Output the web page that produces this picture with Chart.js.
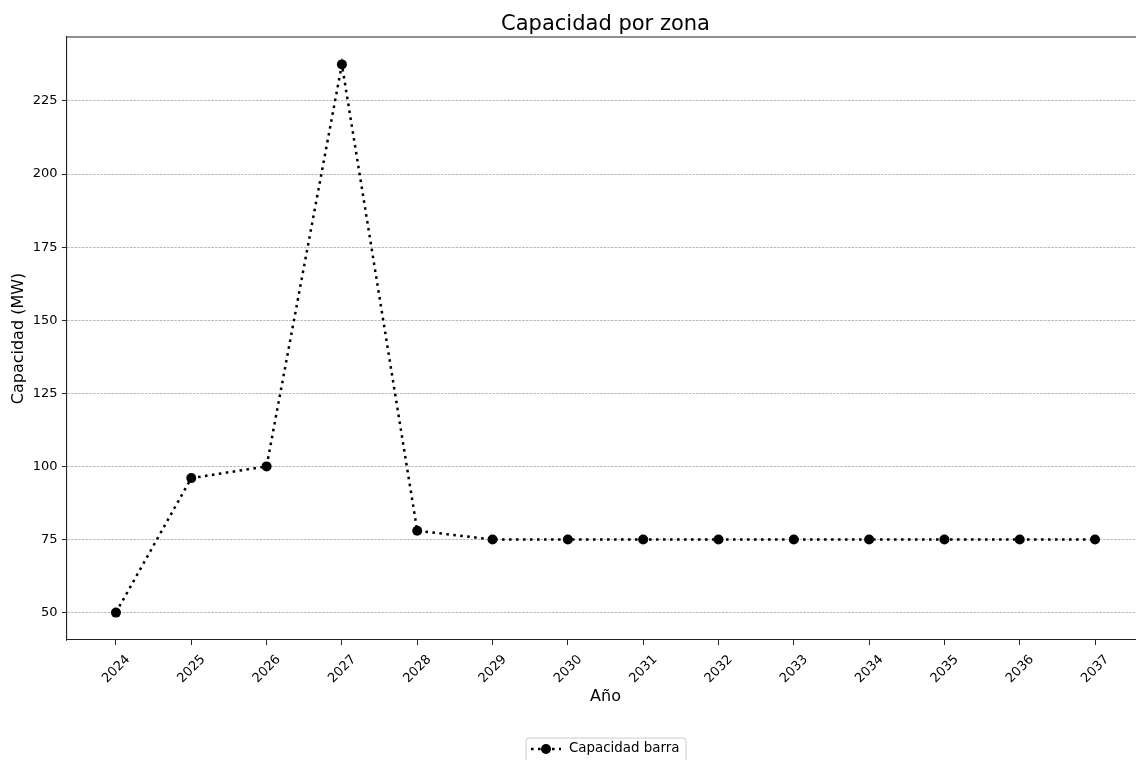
<!DOCTYPE html>
<html>
<head>
<meta charset="utf-8">
<script src="https://cdn.jsdelivr.net/npm/chart.js"></script>
<style>
  html, body { margin: 0; padding: 0; background: #fff; overflow: hidden; }
  #wrap { width: 1136px; height: 760px; overflow: hidden; }
</style>
</head>
<body>
<div id="wrap"><canvas id="capChart" width="1160" height="780"></canvas></div>
<script>
// Datos
const years = [2024, 2025, 2026, 2027, 2028, 2029, 2030, 2031, 2032, 2033, 2034, 2035, 2036, 2037];
const capacidad = [50, 96, 100, 237.5, 78, 75, 75, 75, 75, 75, 75, 75, 75, 75];
const yTicks = [50, 75, 100, 125, 150, 175, 200, 225];
const seriesLabel = 'Capacidad barra';
const chartTitle = 'Capacidad por zona';

const FONT = '"DejaVu Sans", sans-serif';
const spineColor = '#222';

// Title over the axes, top spine and legend drawn like matplotlib
const frameAndLegend = {
    id: 'frameAndLegend',
    afterDraw(chart) {
        const { ctx, chartArea: { top, left, right } } = chart;
        ctx.save();
        ctx.strokeStyle = spineColor;
        ctx.lineWidth = 1.1;
        ctx.beginPath();
        ctx.moveTo(left, top);
        ctx.lineTo(right, top);
        ctx.stroke();

        // title centred on the plot area
        ctx.fillStyle = '#000';
        ctx.font = '21px ' + FONT;
        ctx.textAlign = 'center';
        ctx.textBaseline = 'alphabetic';
        ctx.fillText(chartTitle, (left + right) / 2, 29.5);

        // Legend box
        const bx = 526, by = 738, bw = 160, bh = 26;
        ctx.beginPath();
        ctx.roundRect(bx, by, bw, bh, 3);
        ctx.fillStyle = 'rgba(255,255,255,0.8)';
        ctx.fill();
        ctx.strokeStyle = '#cccccc';
        ctx.lineWidth = 1;
        ctx.stroke();

        const ly = 749;
        const ds = chart.data.datasets[0];
        ctx.strokeStyle = '#000';
        ctx.lineWidth = ds.borderWidth;
        ctx.setLineDash(ds.borderDash);
        ctx.beginPath();
        ctx.moveTo(531, ly);
        ctx.lineTo(561, ly);
        ctx.stroke();
        ctx.setLineDash([]);
        ctx.beginPath();
        ctx.arc(546, ly, ds.pointRadius, 0, Math.PI * 2);
        ctx.fillStyle = '#000';
        ctx.fill();

        ctx.font = '13.4px ' + FONT;
        ctx.textBaseline = 'middle';
        ctx.textAlign = 'left';
        ctx.fillText(ds.label, 569, ly);
        ctx.restore();
    }
};

const ctx = document.getElementById('capChart').getContext('2d');
new Chart(ctx, {
    type: 'line',
    data: {
        datasets: [{
            label: seriesLabel,
            data: years.map((y, i) => ({ x: y, y: capacidad[i] })),
            borderColor: '#000',
            borderWidth: 2.5,
            borderDash: [2.6, 4.4],
            borderCapStyle: 'butt',
            pointRadius: 5,
            pointHoverRadius: 5,
            pointBackgroundColor: '#000',
            pointBorderWidth: 0,
            tension: 0,
            fill: false
        }]
    },
    options: {
        responsive: false,
        animation: false,
        layout: { padding: { left: 0, right: 16, top: 37, bottom: 74 } },
        plugins: {
            legend: { display: false },
            tooltip: { enabled: false },
            title: { display: false }
        },
        scales: {
            x: {
                type: 'linear',
                min: 2023.35,
                max: 2037.65,
                afterBuildTicks: (scale) => { scale.ticks = years.map(v => ({ value: v })); },
                afterFit: (scale) => { scale.height = 66; },
                ticks: {
                    callback: (v) => String(v),
                    minRotation: 45,
                    maxRotation: 45,
                    labelOffset: 12,
                    padding: 7,
                    color: '#000',
                    font: { family: FONT, size: 13 }
                },
                grid: {
                    drawOnChartArea: false,
                    drawTicks: true,
                    tickLength: 5,
                    tickColor: spineColor,
                    tickWidth: 1
                },
                border: { display: true, color: spineColor, width: 1.1 },
                title: {
                    display: true,
                    text: 'Año',
                    color: '#000',
                    font: { family: FONT, size: 16 },
                    padding: 0
                }
            },
            y: {
                min: 40.625,
                max: 246.875,
                afterBuildTicks: (scale) => { scale.ticks = yTicks.map(v => ({ value: v })); },
                afterFit: (scale) => { scale.width = 67; },
                ticks: {
                    padding: 4.5,
                    color: '#000',
                    font: { family: FONT, size: 13 }
                },
                grid: {
                    color: '#9a9a9a',
                    lineWidth: 0.7,
                    drawTicks: true,
                    tickLength: 5,
                    tickColor: spineColor,
                    tickWidth: 1
                },
                border: { display: true, color: spineColor, width: 1.1, dash: [2.5, 1.2] },
                title: {
                    display: true,
                    text: 'Capacidad (MW)',
                    color: '#000',
                    font: { family: FONT, size: 16 },
                    padding: { top: 9, bottom: 0 }
                }
            }
        }
    },
    plugins: [frameAndLegend]
});
</script>
</body>
</html>
